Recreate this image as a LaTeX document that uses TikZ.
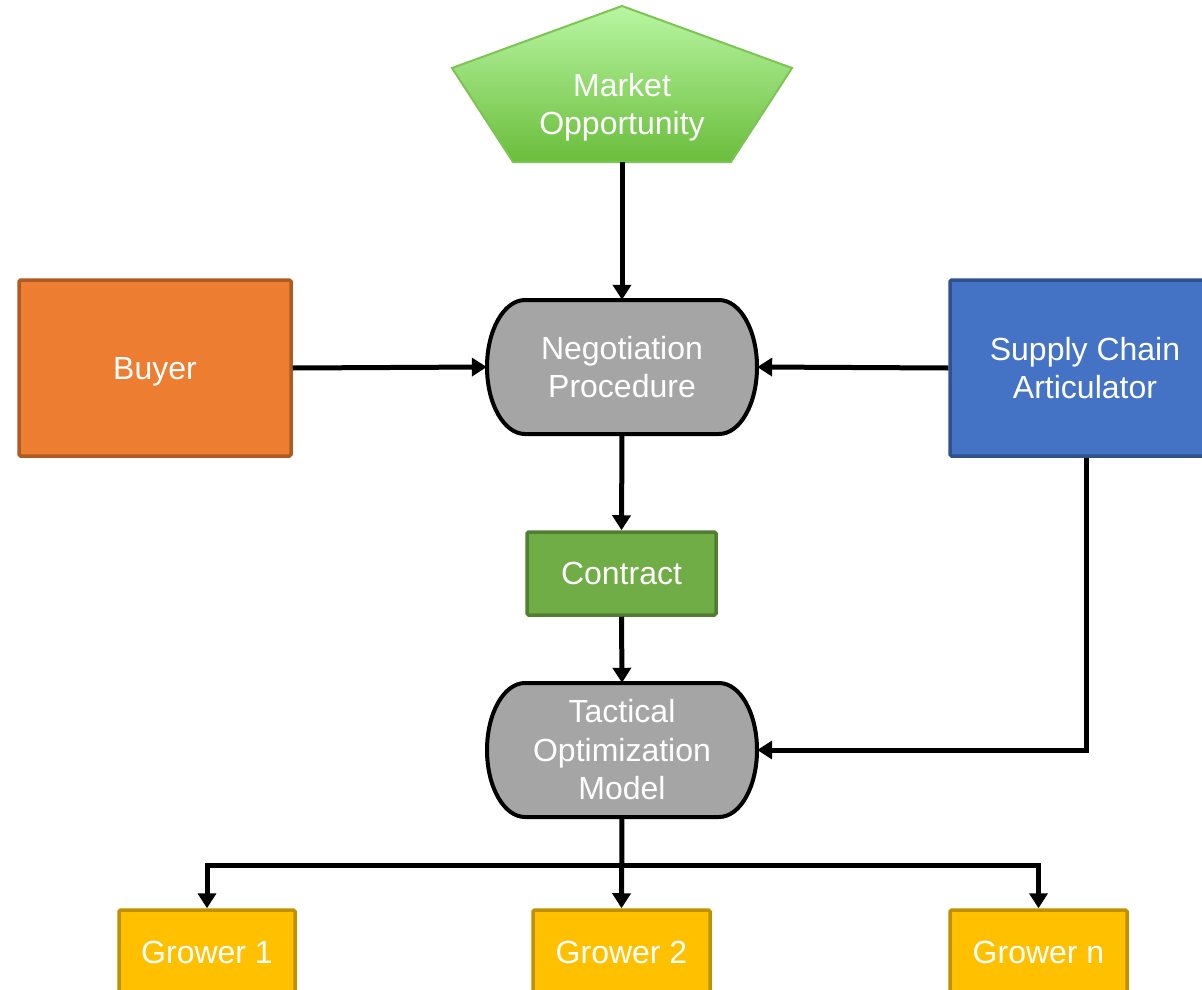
\documentclass[tikz,border=0pt]{standalone}
\usepackage{fontspec}
\setmainfont{Liberation Sans}
\usetikzlibrary{arrows.meta,backgrounds}
\definecolor{orfill}{HTML}{ED7D31}
\definecolor{ordraw}{HTML}{AE5A21}
\definecolor{blfill}{HTML}{4472C4}
\definecolor{bldraw}{HTML}{2F528F}
\definecolor{grfill}{HTML}{70AD47}
\definecolor{grdraw}{HTML}{507E32}
\definecolor{yefill}{HTML}{FFC000}
\definecolor{yedraw}{HTML}{BF9000}
\definecolor{gyfill}{HTML}{A5A5A5}
\definecolor{pttop}{HTML}{B8F6A2}
\definecolor{ptbot}{HTML}{6BBD3C}
\definecolor{ptdraw}{HTML}{7CC453}
\newcommand\termshape[2]{\draw[termdraw,shift={(#1,#2)}] (-97,-67) -- (97,-67) .. controls (118,-67) and (135,-37) .. (135,0) .. controls (135,37) and (118,67) .. (97,67) -- (-97,67) .. controls (-118,67) and (-135,37) .. (-135,0) .. controls (-135,-37) and (-118,-67) .. (-97,-67) -- cycle;}
\tikzset{
  txt/.style={text=white,font=\fontsize{32}{38.5}\selectfont,align=center,inner sep=0pt},
  box/.style={txt,draw,line width=3.5pt,rounded corners=1.5pt},
  termdraw/.style={fill=gyfill,draw=black,line width=4pt},
  termtext/.style={txt,minimum width=270,minimum height=134},
  arr/.style={line width=5pt,-{Triangle[width=18pt,length=15pt]}},
}
\begin{document}
\begin{tikzpicture}[x=1pt,y=-1pt]
\useasboundingbox (0,0) rectangle (1202,990);
\clip (0,0) rectangle (1202,990);
% pentagon
\draw[draw=ptdraw,line width=2pt,top color=pttop,bottom color=ptbot] (622,6) -- (792,68) -- (731,162) -- (513,162) -- (452,68) -- cycle;
\node[txt] (mo) at (622,107) {Market\\Opportunity};
\coordinate (mob) at (622,162);
% terminators
\termshape{622}{367}
\termshape{622}{750}
\node[termtext] (neg) at (622,367) {Negotiation\\Procedure};
\node[termtext] (tac) at (622,750) {Tactical\\Optimization\\Model};
% boxes
\node[box,fill=orfill,draw=ordraw,minimum width=272,minimum height=176,text depth=0pt] (buyer) at (155,368) {Buyer};
\node[box,fill=blfill,draw=bldraw,minimum width=270,minimum height=176] (sca) at (1085,368) {Supply Chain\\Articulator};
\node[box,fill=grfill,draw=grdraw,minimum width=189,minimum height=83] (con) at (621.5,573.5) {Contract};
\node[box,fill=yefill,draw=yedraw,minimum width=176,minimum height=84] (g1) at (207,952) {Grower 1};
\node[box,fill=yefill,draw=yedraw,minimum width=177,minimum height=84] (g2) at (621.5,952) {Grower 2};
\node[box,fill=yefill,draw=yedraw,minimum width=177,minimum height=84] (gn) at (1038.5,952) {Grower n};
% connectors
\draw[arr] (mob) -- (neg.north);
\draw[arr] (buyer.east) -- (neg.west);
\draw[arr] (sca.west) -- (neg.east);
\draw[arr] (neg.south) -- (con.north);
\draw[arr] (con.south) -- (tac.north);
\draw[arr] (sca.south -| 1086,456) |- (tac.east);
\coordinate (bus) at (622,865);
\draw[arr] (tac.south) -- (g2.north);
\draw[arr] (bus) -| (g1.north);
\draw[arr] (bus) -| (gn.north);
\end{tikzpicture}
\end{document}
